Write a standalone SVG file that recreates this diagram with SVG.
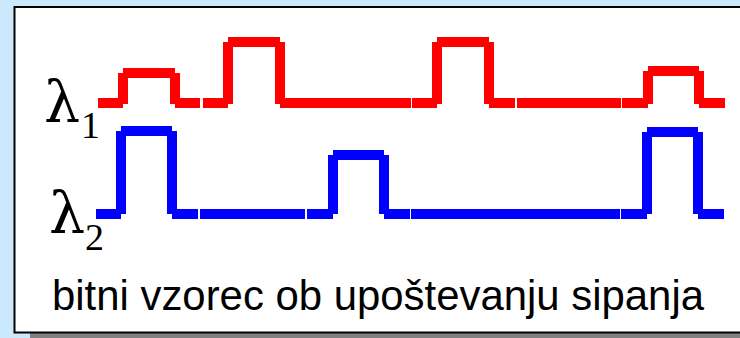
<svg xmlns="http://www.w3.org/2000/svg" width="740" height="338" viewBox="0 0 740 338">
  <style>
    .red rect { fill: #ff0000; }
    .blue rect { fill: #0000ff; }
    .lam { font-family: "DejaVu Serif", "Liberation Serif", serif; fill: #000; }
    .sub { font-family: "Liberation Serif", "Times New Roman", serif; fill: #000; }
    .cap { font-family: "Liberation Sans", Arial, sans-serif; font-size: 43px; fill: #000; }
  </style>
  <rect x="0" y="0" width="740" height="338" fill="#cce8fc"/>
  <rect x="30" y="332" width="710" height="6" fill="#808080"/>
  <rect x="14.5" y="7" width="740" height="325.5" fill="#ffffff" stroke="#000000" stroke-width="2"/>

  <g id="lambda1">
    <text class="lam" x="44" y="122" font-size="57">λ</text>
    <text class="sub" x="81" y="138" font-size="38">1</text>
  </g>
  <g id="lambda2">
    <text class="lam" x="49" y="233" font-size="57">λ</text>
    <text class="sub" x="85" y="250" font-size="38">2</text>
  </g>

  <g id="wave1" class="red">
    <rect x="98" y="98" width="25" height="10"/>
    <rect x="118" y="73" width="10" height="31"/>
    <rect x="123" y="68" width="52" height="10"/>
    <rect x="170" y="73" width="10" height="31"/>
    <rect x="175" y="98" width="25" height="10"/>
    <rect x="203" y="98" width="25" height="10"/>
    <rect x="223" y="42" width="10" height="62"/>
    <rect x="228" y="37" width="52" height="10"/>
    <rect x="275" y="42" width="10" height="62"/>
    <rect x="280" y="98" width="131" height="10"/>
    <rect x="412" y="98" width="25" height="10"/>
    <rect x="432" y="42" width="10" height="62"/>
    <rect x="437" y="37" width="52" height="10"/>
    <rect x="484" y="42" width="10" height="62"/>
    <rect x="489" y="98" width="26" height="10"/>
    <rect x="517" y="98" width="104" height="10"/>
    <rect x="622" y="98" width="26" height="10"/>
    <rect x="643" y="71" width="10" height="33"/>
    <rect x="648" y="66" width="51" height="10"/>
    <rect x="694" y="71" width="10" height="33"/>
    <rect x="699" y="98" width="26" height="10"/>
  </g>

  <g id="wave2" class="blue">
    <rect x="96" y="209" width="25" height="10"/>
    <rect x="116" y="131" width="10" height="83"/>
    <rect x="121" y="126" width="51" height="10"/>
    <rect x="167" y="131" width="10" height="83"/>
    <rect x="172" y="209" width="26" height="10"/>
    <rect x="200" y="209" width="105" height="10"/>
    <rect x="307" y="209" width="26" height="10"/>
    <rect x="328" y="155" width="10" height="59"/>
    <rect x="333" y="150" width="51" height="10"/>
    <rect x="379" y="155" width="10" height="59"/>
    <rect x="384" y="209" width="26" height="10"/>
    <rect x="411" y="209" width="209" height="10"/>
    <rect x="621" y="209" width="26" height="10"/>
    <rect x="642" y="132" width="10" height="82"/>
    <rect x="647" y="127" width="51" height="10"/>
    <rect x="693" y="132" width="10" height="82"/>
    <rect x="698" y="209" width="26" height="10"/>
  </g>

  <text class="cap" x="52" y="310" textLength="652" lengthAdjust="spacingAndGlyphs">bitni vzorec ob upoštevanju sipanja</text>
</svg>
